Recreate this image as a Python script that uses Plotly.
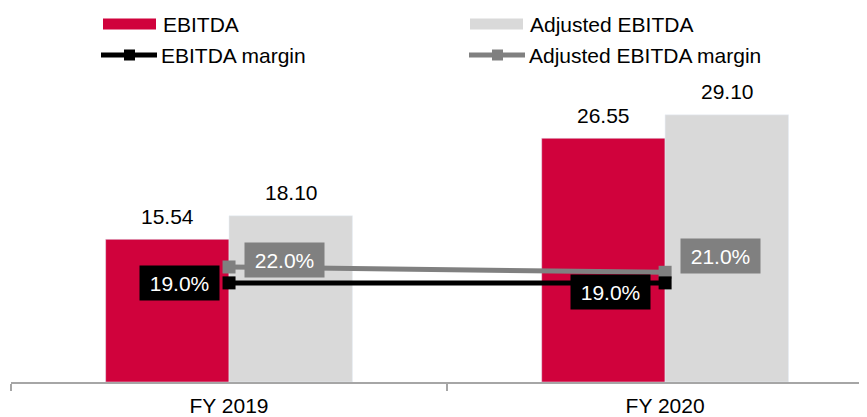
import plotly.graph_objects as go

categories = ["FY 2019", "FY 2020"]
ebitda = [15.54, 26.55]
adj_ebitda = [18.10, 29.10]
ebitda_margin = [19.0, 19.0]
adj_margin = [22.0, 21.0]

RED = "#D0023C"
LGREY = "#D9D9D9"
DGREY = "#808080"
FONT = "Liberation Sans, Arial, sans-serif"
FS = 21

OFF = 8  # page body margin
W, H = 867 - OFF, 417 - OFF
ML, MR, MT, MB = 11 - OFF, 0, 0, 35
PW, PH = W - ML - MR, H - MT - MB


def px(x):
    return (x - OFF - ML) / PW


def py(y):
    return (H - MB - (y - OFF)) / PH


fig = go.Figure()
fig.add_trace(go.Bar(x=categories, y=ebitda, name="EBITDA", marker_color=RED,
                     width=0.283, offset=-0.283, showlegend=False))
fig.add_trace(go.Bar(x=categories, y=adj_ebitda, name="Adjusted EBITDA", marker_color=LGREY,
                     width=0.283, offset=0.0, showlegend=False))
fig.add_trace(go.Scatter(x=categories, y=adj_margin, name="Adjusted EBITDA margin", yaxis="y2",
                         mode="lines+markers", line=dict(color=DGREY, width=5),
                         marker=dict(symbol="square", size=13, color=DGREY), showlegend=False))
fig.add_trace(go.Scatter(x=categories, y=ebitda_margin, name="EBITDA margin", yaxis="y2",
                         mode="lines+markers", line=dict(color="black", width=5),
                         marker=dict(symbol="square", size=13, color="black"), showlegend=False))

ann = []
# bar value labels
for c, v in zip(categories, ebitda):
    ann.append(dict(x=c, y=v, xref="x", yref="y", text=f"{v:.2f}", showarrow=False,
                    xshift=-62, yshift=23, yanchor="middle", font=dict(size=FS, color="black")))
for c, v in zip(categories, adj_ebitda):
    ann.append(dict(x=c, y=v, xref="x", yref="y", text=f"{v:.2f}", showarrow=False,
                    xshift=62, yshift=23, yanchor="middle", font=dict(size=FS, color="black")))

# margin labels
em_shift = [(-50, 0), (-55, -9)]
am_shift = [(55, 7), (55, 16)]
for c, v, (dx, dy) in zip(categories, ebitda_margin, em_shift):
    ann.append(dict(x=c, y=v, xref="x", yref="y2", text=f"{v:.1f}%", showarrow=False,
                    xshift=dx, yshift=dy, bgcolor="black", width=77, height=32,
                    font=dict(size=FS, color="white")))
for c, v, (dx, dy) in zip(categories, adj_margin, am_shift):
    ann.append(dict(x=c, y=v, xref="x", yref="y2", text=f"{v:.1f}%", showarrow=False,
                    xshift=dx, yshift=dy, bgcolor=DGREY, width=77, height=32,
                    font=dict(size=FS, color="white")))

# legend (manual)
shapes = []
legend_items = [
    ("EBITDA", "bar", RED, 103, 24),
    ("Adjusted EBITDA", "bar", LGREY, 470, 24),
    ("EBITDA margin", "line", "black", 101, 55),
    ("Adjusted EBITDA margin", "line", DGREY, 469, 55),
]
for label, kind, col, x0, yc in legend_items:
    if kind == "bar":
        shapes.append(dict(type="rect", xref="paper", yref="paper",
                           x0=px(x0), x1=px(x0 + 53), y0=py(yc - 5.5), y1=py(yc + 5.5),
                           fillcolor=col, line=dict(width=0)))
    else:
        shapes.append(dict(type="line", xref="paper", yref="paper",
                           x0=px(x0), x1=px(x0 + 56), y0=py(yc), y1=py(yc),
                           line=dict(color=col, width=5)))
        shapes.append(dict(type="rect", xref="paper", yref="paper",
                           x0=px(x0 + 23), x1=px(x0 + 34), y0=py(yc - 5.5), y1=py(yc + 5.5),
                           fillcolor=col, line=dict(width=0)))
    ann.append(dict(x=px(x0 + 58), y=py(yc + 1), xref="paper", yref="paper", text=label,
                    showarrow=False, xanchor="left", yanchor="middle",
                    font=dict(size=FS, color="black")))

fig.update_layout(
    width=W, height=H,
    margin=dict(l=ML, r=MR, t=MT, b=MB),
    paper_bgcolor="white", plot_bgcolor="white",
    font=dict(family=FONT, size=FS, color="black"),
    barmode="overlay",
    showlegend=False,
    xaxis=dict(type="category", range=[-0.5, 1.463], tickson="boundaries", ticks="outside",
               ticklen=7, tickcolor="#A6A6A6", tickwidth=1.5, showline=True,
               linecolor="#A6A6A6", linewidth=1.5, showgrid=False, zeroline=False,
               ticklabelstandoff=4,
               tickfont=dict(size=FS, color="black")),
    yaxis=dict(range=[0, 374 / 9.18], visible=False, showgrid=False, zeroline=False),
    yaxis2=dict(range=[0.3, 0.3 + 374 / 5.3], overlaying="y", side="right", visible=False,
                showgrid=False, zeroline=False),
    annotations=ann,
    shapes=shapes,
)

fig.write_html("out.html")
